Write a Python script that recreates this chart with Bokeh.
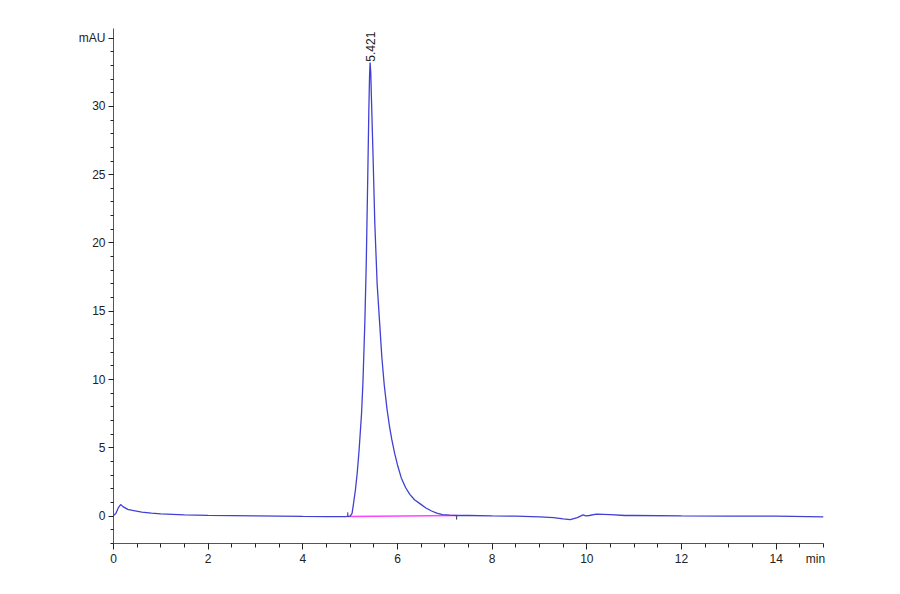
import numpy as np
from bokeh.plotting import figure
from bokeh.models import FixedTicker, Range1d, ColumnDataSource, LinearAxis
from bokeh.core.properties import value
from bokeh.embed import file_html
from bokeh.resources import INLINE

# Chromatogram (time in min, signal in mAU)
time_min = [0.0, 0.05, 0.1, 0.15, 0.2, 0.3, 0.4, 0.6, 0.8, 1.0, 1.5, 2.0, 2.5, 3.0,
            3.5, 4.0, 4.5, 4.9, 5.0, 5.04, 5.07, 5.11, 5.15, 5.19, 5.24, 5.27, 5.31,
            5.34, 5.37, 5.395, 5.41, 5.421, 5.435, 5.45, 5.48, 5.52, 5.57, 5.62, 5.67,
            5.72, 5.78, 5.83, 5.88, 5.94, 6.0, 6.08, 6.17, 6.26, 6.36, 6.48, 6.6, 6.72,
            6.83, 6.95, 7.1, 7.25, 7.5, 8.0, 8.5, 9.0, 9.3, 9.5,
            9.65, 9.8, 9.92, 9.98, 10.05, 10.2, 10.5, 10.8, 11.0, 12.0, 13.0, 14.0, 15.0]
signal_mau = [0.05, 0.2, 0.6, 0.85, 0.7, 0.5, 0.42, 0.3, 0.22, 0.17, 0.1, 0.06, 0.04, 0.02,
              0.0, -0.02, -0.03, -0.03, 0.0, 0.2, 0.9, 1.9, 3.2, 4.9, 7.5, 9.8, 14.2,
              18.5, 24.5, 29.8, 32.3, 33.2, 32.5, 30.5, 26.8, 21.5, 17.0, 14.3, 11.6,
              9.6, 7.8, 6.6, 5.6, 4.6, 3.75, 2.8, 2.1, 1.6, 1.2, 0.9, 0.6, 0.38,
              0.22, 0.12, 0.07, 0.05, 0.05, 0.02, 0.0, -0.05, -0.1, -0.2,
              -0.25, -0.1, 0.1, 0.02, 0.05, 0.15, 0.12, 0.05, 0.05, 0.02, 0.0, 0.0, -0.05]

# Integration baseline of the peak
baseline_t = [4.95, 7.25]
baseline_v = [-0.02, 0.05]

# Peak annotation
peak_rt = [5.421]
peak_height = [33.2]
peak_label = ["5.421"]

x_major = [0, 2, 4, 6, 8, 10, 12, 14]
x_minor = [i * 0.5 for i in range(0, 31)]
x_unit_pos = [14.83]
x_unit_label = {14.83: "min"}
y_major = [0, 5, 10, 15, 20, 25, 30, 35]
y_minor = list(range(-2, 36))
y_overrides = {35: "mAU"}

FONT = "Liberation Sans"

p = figure(frame_width=710, frame_height=515, width=880, height=585,
           min_border_left=113, min_border_top=28, min_border_right=57, min_border_bottom=20,
           x_range=Range1d(0, 15), y_range=Range1d(-2, 35.7),
           output_backend="svg", toolbar_location=None)
p.outline_line_color = None
p.xgrid.visible = False
p.ygrid.visible = False
p.background_fill_color = "white"
p.border_fill_color = "white"

for ax in (p.xaxis[0], p.yaxis[0]):
    ax.axis_line_color = "#555555"
    ax.axis_line_width = 1
    ax.major_tick_line_color = "#222222"
    ax.minor_tick_line_color = "#222222"
    ax.major_tick_in = 0
    ax.minor_tick_in = 0
    ax.major_label_text_font = FONT
    ax.major_label_text_font_size = "12px"
    ax.major_label_text_color = "#222222"

p.xaxis.ticker = FixedTicker(ticks=x_major, minor_ticks=x_minor)
p.xaxis.major_tick_out = 6
p.xaxis.minor_tick_out = 4
p.xaxis.major_label_standoff = 4

# unit label "min" at the right end of the time axis
unit_axis = LinearAxis(ticker=FixedTicker(ticks=x_unit_pos, minor_ticks=[]),
                       major_label_overrides=x_unit_label,
                       axis_line_color=None, major_tick_line_color=None,
                       minor_tick_line_color=None, major_tick_out=0, major_tick_in=0,
                       minor_tick_out=0, minor_tick_in=0,
                       major_label_standoff=-14,
                       major_label_text_font=FONT, major_label_text_font_size="12px",
                       major_label_text_color="#222222")
p.add_layout(unit_axis, "below")

p.yaxis.ticker = FixedTicker(ticks=y_major, minor_ticks=y_minor)
p.yaxis.major_label_overrides = y_overrides
p.yaxis.major_tick_out = 5
p.yaxis.minor_tick_out = 3
p.yaxis.major_label_standoff = 3

# baseline of integration
p.line(baseline_t, baseline_v, line_color="#ff44ff", line_width=1.5)
p.segment(x0=[baseline_t[0]], y0=[baseline_v[0]], x1=[baseline_t[0]], y1=[baseline_v[0] + 0.3],
          line_color="#333333", line_width=1)
p.segment(x0=[baseline_t[1]], y0=[baseline_v[1]], x1=[baseline_t[1]], y1=[baseline_v[1] - 0.3],
          line_color="#333333", line_width=1)

# signal
p.line(time_min, signal_mau, line_color="#4040d4", line_width=1.3)

# peak label
src = ColumnDataSource(dict(x=peak_rt, y=peak_height, t=peak_label))
p.text(x="x", y="y", text="t", source=src, angle=np.pi / 2, text_align="left",
       text_baseline="middle", text_font=value(FONT), text_font_size="12px",
       text_color="#222222", y_offset=-1)

open("out.html", "w").write(file_html(p, INLINE))
